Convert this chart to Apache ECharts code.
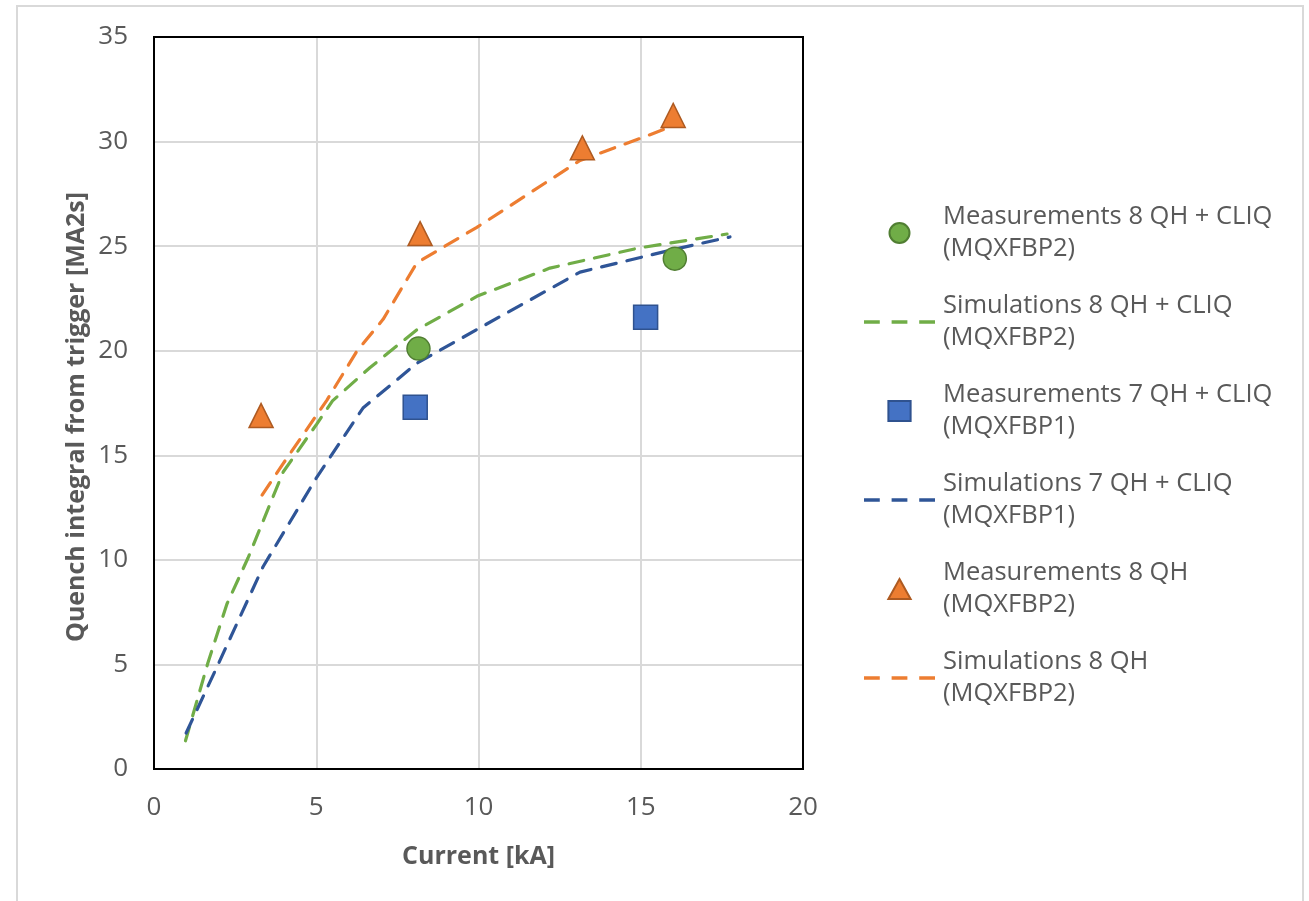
<!DOCTYPE html>
<html>
<head>
<meta charset="utf-8">
<script src="https://cdn.jsdelivr.net/npm/echarts@6/dist/echarts.min.js"></script>
<style>
  html, body { margin: 0; padding: 0; background: #fff; }
  #chart { width: 1309px; height: 901px; }
</style>
</head>
<body>
<div id="chart"></div>
<script>
// Quench integral measured / simulated vs. current
const xTicks = [0, 5, 10, 15, 20];
const yTicks = [0, 5, 10, 15, 20, 25, 30, 35];

// Measurements 8 QH + CLIQ (MQXFBP2)
const meas8CliqX = [8.15, 16.05];
const meas8CliqY = [20.1, 24.4];
// Simulations 8 QH + CLIQ (MQXFBP2)
const sim8CliqX = [0.97, 1.66, 2.25, 2.9, 3.98, 5.02, 5.5, 6.66, 8.1, 9.95, 12.2, 14.9, 17.66];
const sim8CliqY = [1.35, 5.07, 7.9, 10.1, 14.2, 16.5, 17.6, 19.2, 21.0, 22.6, 23.95, 24.9, 25.58];

// Measurements 7 QH + CLIQ (MQXFBP1)
const meas7CliqX = [8.05, 15.15];
const meas7CliqY = [17.3, 21.6];
// Simulations 7 QH + CLIQ (MQXFBP1)
const sim7CliqX = [0.99, 1.94, 3.36, 5.02, 6.44, 8.1, 10.05, 13.13, 15.9, 17.75];
const sim7CliqY = [1.72, 4.88, 9.67, 13.96, 17.26, 19.4, 21.1, 23.76, 24.8, 25.44];

// Measurements 8 QH (MQXFBP2)
const meas8QhX = [3.3, 8.2, 13.2, 16.0];
const meas8QhY = [16.9, 25.6, 29.7, 31.25];
// Simulations 8 QH (MQXFBP2)
const sim8QhX = [3.33, 3.98, 5.33, 6.26, 7.06, 8.1, 9.95, 13.13, 15.07, 15.9];
const sim8QhY = [13.1, 14.6, 17.64, 20.0, 21.5, 24.2, 25.9, 29.1, 30.2, 30.7];

const pairs = (xs, ys) => xs.map((x, i) => [x, ys[i]]);

const GREEN = '#70AD47', GREEN_DK = '#507E32';
const BLUE = '#4472C4', BLUE_DK = '#2F528F', BLUE_LINE = '#2F5597';
const ORANGE = '#ED7D31', ORANGE_DK = '#AE5A21';
const TEXT = '#595959';
const FONT = '"Open Sans", "Liberation Sans", sans-serif';

// legend glyphs: a three-dash stroke for simulations, square / triangle for measurements
const DASH_ICON = 'path://M0,0h16v3.4h-16z M28,0h16v3.4h-16z M56,0h16v3.4h-16z';
const SQUARE_ICON = 'path://M0,0L1,0L1,0.9L0,0.9Z';
const TRIANGLE_ICON = 'path://M0.5,0L1,0.9L0,0.9Z';

function scatter(name, data, symbol, size, fill, stroke) {
  return {
    name, type: 'scatter', data, symbol, symbolSize: size, z: 5,
    itemStyle: { color: fill, borderColor: stroke, borderWidth: 1.5, opacity: 1 }
  };
}
function dashed(name, data, color) {
  return {
    name, type: 'line', data, symbol: 'none', smooth: false, z: 3,
    itemStyle: { color },
    lineStyle: { color, width: 3.2, type: [15, 11], cap: 'round' }
  };
}

const chart = echarts.init(document.getElementById('chart'), null, { renderer: 'canvas' });
chart.setOption({
  animation: false,
  backgroundColor: '#ffffff',
  graphic: [{
    type: 'rect', silent: true, z: -10,
    shape: { x: 17, y: 6, width: 1286, height: 1000 },
    style: { fill: 'none', stroke: '#d9d9d9', lineWidth: 2 }
  }],
  grid: { left: 154, right: 506, top: 37, bottom: 132, show: true, borderColor: '#000', borderWidth: 2, backgroundColor: 'transparent', z: 10 },
  xAxis: {
    type: 'value', min: xTicks[0], max: xTicks[xTicks.length - 1], interval: 5,
    name: 'Current [kA]', nameLocation: 'middle', nameGap: 75,
    nameTextStyle: { color: TEXT, fontFamily: FONT, fontWeight: 'bold', fontSize: 25 },
    axisLine: { show: false }, axisTick: { show: false },
    axisLabel: { color: TEXT, fontFamily: FONT, fontSize: 26, margin: 26 },
    splitLine: { show: true, lineStyle: { color: '#d9d9d9', width: 2 } }
  },
  yAxis: {
    type: 'value', min: yTicks[0], max: yTicks[yTicks.length - 1], interval: 5,
    name: 'Quench integral from trigger [MA2s]', nameLocation: 'middle', nameGap: 65,
    nameTextStyle: { color: TEXT, fontFamily: FONT, fontWeight: 'bold', fontSize: 25, padding: [0, 28, 0, 0] },
    axisLine: { show: false }, axisTick: { show: false },
    axisLabel: { color: TEXT, fontFamily: FONT, fontSize: 26, margin: 26 },
    splitLine: { show: true, lineStyle: { color: '#d9d9d9', width: 2 } }
  },
  legend: {
    orient: 'vertical', left: 864, top: 185, padding: 0,
    itemWidth: 71, itemHeight: 20, itemGap: -7,
    symbolKeepAspect: true,
    formatter: n => n.replace(' (', '\n('),
    textStyle: { color: TEXT, fontFamily: FONT, fontSize: 25.5, lineHeight: 32, padding: [32, 0, 0, 3] },
    data: [
      { name: 'Measurements 8 QH + CLIQ (MQXFBP2)', icon: 'circle' },
      { name: 'Simulations 8 QH + CLIQ (MQXFBP2)', icon: DASH_ICON },
      { name: 'Measurements 7 QH + CLIQ (MQXFBP1)', icon: SQUARE_ICON },
      { name: 'Simulations 7 QH + CLIQ (MQXFBP1)', icon: DASH_ICON },
      { name: 'Measurements 8 QH (MQXFBP2)', icon: TRIANGLE_ICON },
      { name: 'Simulations 8 QH (MQXFBP2)', icon: DASH_ICON }
    ]
  },
  series: [
    dashed('Simulations 8 QH + CLIQ (MQXFBP2)', pairs(sim8CliqX, sim8CliqY), GREEN),
    dashed('Simulations 7 QH + CLIQ (MQXFBP1)', pairs(sim7CliqX, sim7CliqY), BLUE_LINE),
    dashed('Simulations 8 QH (MQXFBP2)', pairs(sim8QhX, sim8QhY), ORANGE),
    scatter('Measurements 8 QH + CLIQ (MQXFBP2)', pairs(meas8CliqX, meas8CliqY), 'circle', 23, GREEN, GREEN_DK),
    scatter('Measurements 7 QH + CLIQ (MQXFBP1)', pairs(meas7CliqX, meas7CliqY), 'rect', 24, BLUE, BLUE_DK),
    scatter('Measurements 8 QH (MQXFBP2)', pairs(meas8QhX, meas8QhY), 'triangle', 24, ORANGE, ORANGE_DK)
  ]
});
</script>
</body>
</html>
